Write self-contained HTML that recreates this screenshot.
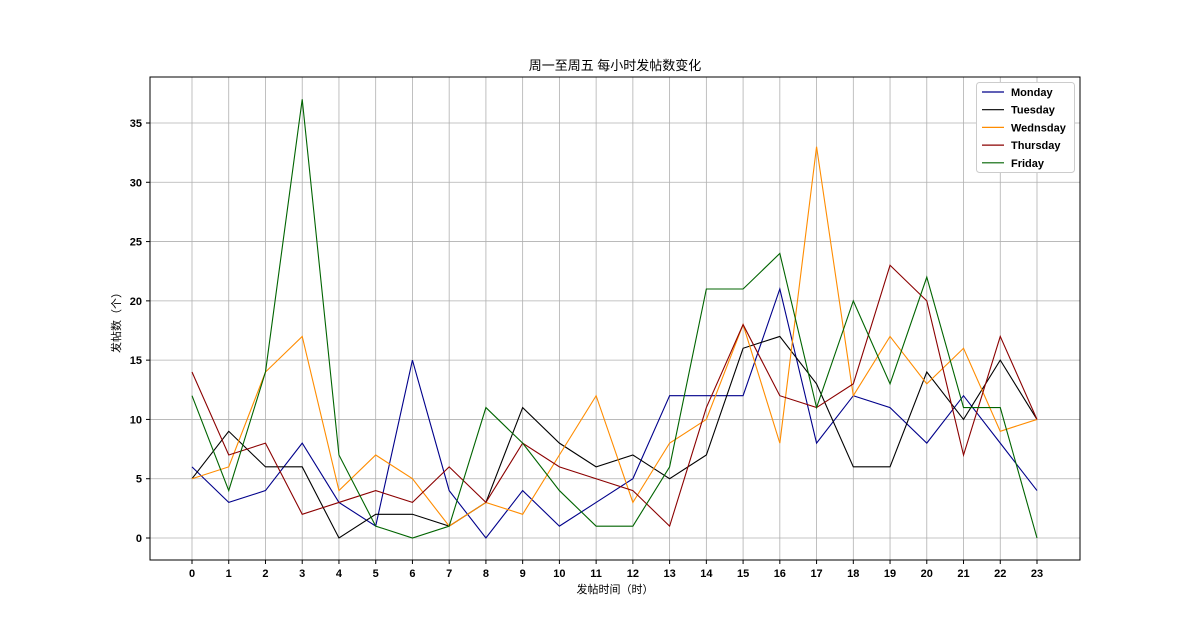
<!DOCTYPE html>
<html><head><meta charset="utf-8"><style>
body{margin:0;background:#fff;}
svg{display:block;font-family:"Liberation Sans","Noto Sans CJK SC",sans-serif;}
</style></head><body>
<svg id="chart" width="1200" height="640">
<text x="615" y="70" text-anchor="middle" font-size="13">周一至周五 每小时发帖数变化</text>
<text x="615" y="593" text-anchor="middle" font-size="11">发帖时间（时）</text>
<text x="120" y="320" text-anchor="middle" font-size="11" transform="rotate(-90 120 320)">发帖数（个）</text>
<g id="grid"></g><g id="series"></g><g id="axes"></g>
<g id="legend"></g>
</svg>
<script>
const hours=[0,1,2,3,4,5,6,7,8,9,10,11,12,13,14,15,16,17,18,19,20,21,22,23];
const yTicks=[0,5,10,15,20,25,30,35];
const seriesNames=["Monday","Tuesday","Wednsday","Thursday","Friday"];
const monday=[6,3,4,8,3,1,15,4,0,4,1,3,5,12,12,12,21,8,12,11,8,12,8,4];
const tuesday=[5,9,6,6,0,2,2,1,3,11,8,6,7,5,7,16,17,13,6,6,14,10,15,10];
const wednesday=[5,6,14,17,4,7,5,1,3,2,7,12,3,8,10,18,8,33,12,17,13,16,9,10];
const thursday=[14,7,8,2,3,4,3,6,3,8,6,5,4,1,11,18,12,11,13,23,20,7,17,10];
const friday=[12,4,14,37,7,1,0,1,11,8,4,1,1,6,21,21,24,11,20,13,22,11,11,0];
const allSeries=[monday,tuesday,wednesday,thursday,friday];
const colors=["#00008b","#000000","#ff8c00","#8b0000","#006400"];
const NS="http://www.w3.org/2000/svg";
const L=150,R=1080,T=77,B=560;
const xs=h=>192+h*(1037-192)/23;
const ys=v=>538-v*(538-123)/35;
function mk(t,a,p){const e=document.createElementNS(NS,t);for(const k in a)e.setAttribute(k,a[k]);p.appendChild(e);return e;}
const grid=document.getElementById('grid'),axes=document.getElementById('axes');
hours.forEach(h=>{
 const g=mk('line',{x1:xs(h),x2:xs(h),y1:T,y2:B,stroke:'#b0b0b0','stroke-width':0.8},grid);
 
 
 mk('line',{x1:xs(h),x2:xs(h),y1:B,y2:B+4,stroke:'#000'},axes);
 const t=mk('text',{x:xs(h),y:B+17,'text-anchor':'middle','font-size':11,'font-weight':'bold'},axes);
 t.textContent=h;
 
 
});
yTicks.forEach(v=>{
 const g=mk('line',{x1:L,x2:R,y1:ys(v),y2:ys(v),stroke:'#b0b0b0','stroke-width':0.8},grid);
 
 
 mk('line',{x1:L-4,x2:L,y1:ys(v),y2:ys(v),stroke:'#000'},axes);
 const t=mk('text',{x:L-8,y:ys(v)+4,'text-anchor':'end','font-size':11,'font-weight':'bold'},axes);
 t.textContent=v;
 
 
});
const frame=mk('rect',{x:L,y:T,width:R-L,height:B-T,fill:'none',stroke:'#000','stroke-width':1},axes);


const sg=document.getElementById('series');
allSeries.forEach((s,i)=>{
 const p=mk('polyline',{points:s.map((v,h)=>xs(hours[h])+','+ys(v)).join(' '),fill:'none',stroke:colors[i],'stroke-width':1.1},sg);
 
 
});
const lg=document.getElementById('legend');
mk('rect',{x:976.5,y:82.5,width:98,height:90,rx:3,fill:'#fff',stroke:'#ccc'},lg);
seriesNames.forEach((n,i)=>{
 const y=92+i*17.7;
 mk('line',{x1:982,x2:1004,y1:y,y2:y,stroke:colors[i],'stroke-width':1.2},lg);
 const t=mk('text',{x:1011,y:y+4,'font-size':11,'font-weight':'bold'},lg);
 t.textContent=n;
 
 
});
</script>
</body></html>
